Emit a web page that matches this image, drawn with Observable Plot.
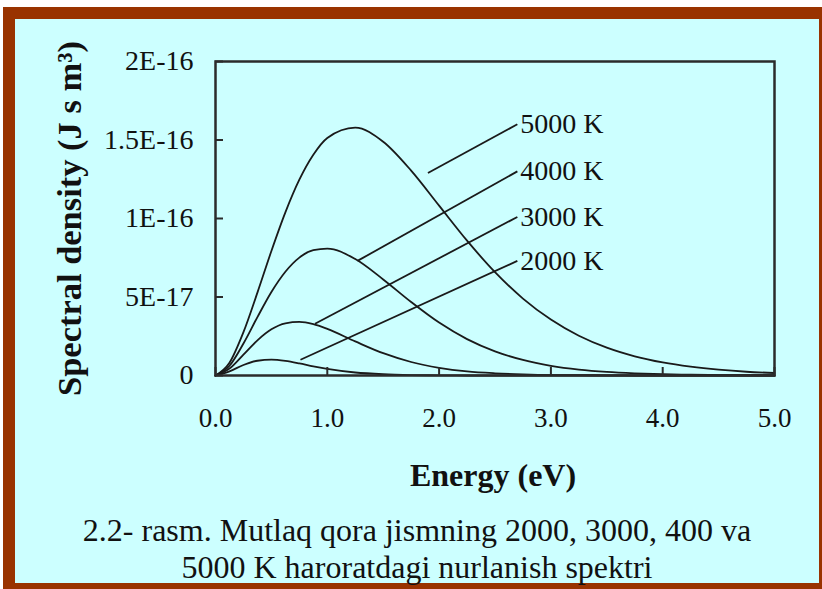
<!DOCTYPE html>
<html>
<head>
<meta charset="utf-8">
<script src="https://cdn.jsdelivr.net/npm/d3@7"></script>
<script src="https://cdn.jsdelivr.net/npm/@observablehq/plot@0.6"></script>
<style>
  html, body { margin: 0; padding: 0; background: #ffffff; width: 822px; height: 589px; overflow: hidden; }
  #frame { position: absolute; left: 3px; top: 7px; width: 804px; height: 564px; border: 12px solid #993300; background: #ccffff; }
  #chart { position: absolute; left: 0; top: 0; }
  #caption { position: absolute; left: 15px; top: 512px; width: 804px; text-align: center;
             font-family: "Liberation Serif", "Times New Roman", serif; font-size: 32px; line-height: 37px; color: #111; }
</style>
</head>
<body>
<div id="frame"></div>
<div id="chart"></div>
<div id="caption">2.2- rasm. Mutlaq qora jismning 2000, 3000, 400 va<br>5000 K haroratdagi nurlanish spektri</div>
<script>
// Photon energy (eV)
const energy = [0, 0.125, 0.25, 0.375, 0.5, 0.625, 0.75, 0.875, 1.0,
  1.25, 1.5, 1.75, 2.0, 2.25, 2.5, 2.75, 3.0, 3.25, 3.5, 3.75, 4.0, 4.25, 4.5, 4.75, 5.0];
// Spectral density, in units of 1E-16 J s m^-3
const d5000 = [0, 0.081, 0.276, 0.528, 0.793, 1.039, 1.247, 1.406, 1.513,
  1.579, 1.489, 1.305, 1.082, 0.859, 0.658, 0.490, 0.356, 0.253, 0.177, 0.122, 0.083, 0.056, 0.037, 0.024, 0.016];
const d4000 = [0, 0.062, 0.204, 0.372, 0.532, 0.661, 0.751, 0.798, 0.808,
  0.742, 0.612, 0.468, 0.337, 0.232, 0.154, 0.099, 0.062, 0.038, 0.023, 0.014, 0.008, 0.005, 0.003, 0.002, 0.001];
const d3000 = [0, 0.044, 0.133, 0.224, 0.294, 0.332, 0.341, 0.327, 0.297,
  0.217, 0.142, 0.086, 0.049, 0.026, 0.014, 0.007, 0.003, 0.002, 0.001, 0, 0, 0, 0, 0, 0];
const d2000 = [0, 0.026, 0.067, 0.094, 0.101, 0.093, 0.077, 0.058, 0.042,
  0.019, 0.008, 0.003, 0.001, 0, 0, 0, 0, 0, 0, 0, 0, 0, 0, 0, 0];

const seriesNames = ["5000 K", "4000 K", "3000 K", "2000 K"];
const seriesValues = [d5000, d4000, d3000, d2000];

// Leader lines from curves to labels (energy eV, density 1E-16)
const leaderFromE = [1.90, 1.27, 0.89, 0.76];
const leaderFromD = [1.29, 0.73, 0.33, 0.10];
const leaderToE = [2.70, 2.70, 2.70, 2.70];
const leaderToD = [1.60, 1.30, 1.01, 0.73];

const xTicks = [0, 1, 2, 3, 4, 5];
const xTickLabels = ["0.0", "1.0", "2.0", "3.0", "4.0", "5.0"];
const yTicks = [0, 0.5, 1, 1.5, 2];
const yTickLabels = ["0", "5E-17", "1E-16", "1.5E-16", "2E-16"];
const xTitle = "Energy (eV)";
const yTitle = "Spectral density (J s m\u00B3)";

const rows = [];
seriesNames.forEach((name, s) => {
  energy.forEach((e, i) => rows.push({series: name, energy: e, density: seriesValues[s][i]}));
});
const leaders = seriesNames.map((name, i) => ({
  name, e1: leaderFromE[i], d1: leaderFromD[i], e2: leaderToE[i], d2: leaderToD[i]
}));

const serif = "'Liberation Serif', 'Times New Roman', serif";
const W = 822, H = 500, ML = 215, MR = 48, MT = 61, MB = 125;
const ink = "#1a1a1a";

const chart = Plot.plot({
  width: W, height: H,
  marginLeft: ML, marginRight: MR, marginTop: MT, marginBottom: MB,
  style: {background: "transparent", fontFamily: serif, color: "#111", overflow: "visible"},
  x: {domain: [0, 5]},
  y: {domain: [0, 2]},
  marks: [
    Plot.line(rows, {x: "energy", y: "density", z: "series", stroke: ink, strokeWidth: 1.8, curve: "monotone-x"}),
    Plot.link(leaders, {x1: "e1", y1: "d1", x2: "e2", y2: "d2", stroke: ink, strokeWidth: 1.8}),
    Plot.text(leaders, {x: "e2", y: "d2", text: "name", dx: 3, textAnchor: "start", fontSize: 28, fill: "#111"}),
    Plot.tickY(yTicks, {y: d => d, insetRight: W - ML - MR - 8, stroke: "#2b2b2b", strokeWidth: 2}),
    Plot.tickX(xTicks, {x: d => d, insetTop: H - MT - MB - 8, stroke: "#2b2b2b", strokeWidth: 2}),
    Plot.frame({stroke: "#2b2b2b", strokeWidth: 2.5}),
    Plot.axisY(yTicks, {tickSize: 0, tickPadding: 22, fontSize: 28, label: null,
      tickFormat: d => yTickLabels[yTicks.indexOf(d)]}),
    Plot.axisX(xTicks, {tickSize: 0, tickPadding: 32, fontSize: 27, label: null,
      tickFormat: d => xTickLabels[xTicks.indexOf(d)]}),
    Plot.text([xTitle], {frameAnchor: "bottom", dy: 110, dx: -2, fontSize: 32, fontWeight: "bold", fill: "#111"}),
    Plot.text([yTitle], {frameAnchor: "left", textAnchor: "middle", lineAnchor: "middle", dx: -145, rotate: -90,
      fontSize: 33, fontWeight: "bold", fill: "#111"})
  ]
});
// condense the rotated y title to the reference's length
d3.select(chart).selectAll("text").filter(function() { return this.textContent === yTitle; })
  .attr("textLength", 355).attr("lengthAdjust", "spacingAndGlyphs");
document.getElementById("chart").appendChild(chart);
</script>
</body>
</html>
